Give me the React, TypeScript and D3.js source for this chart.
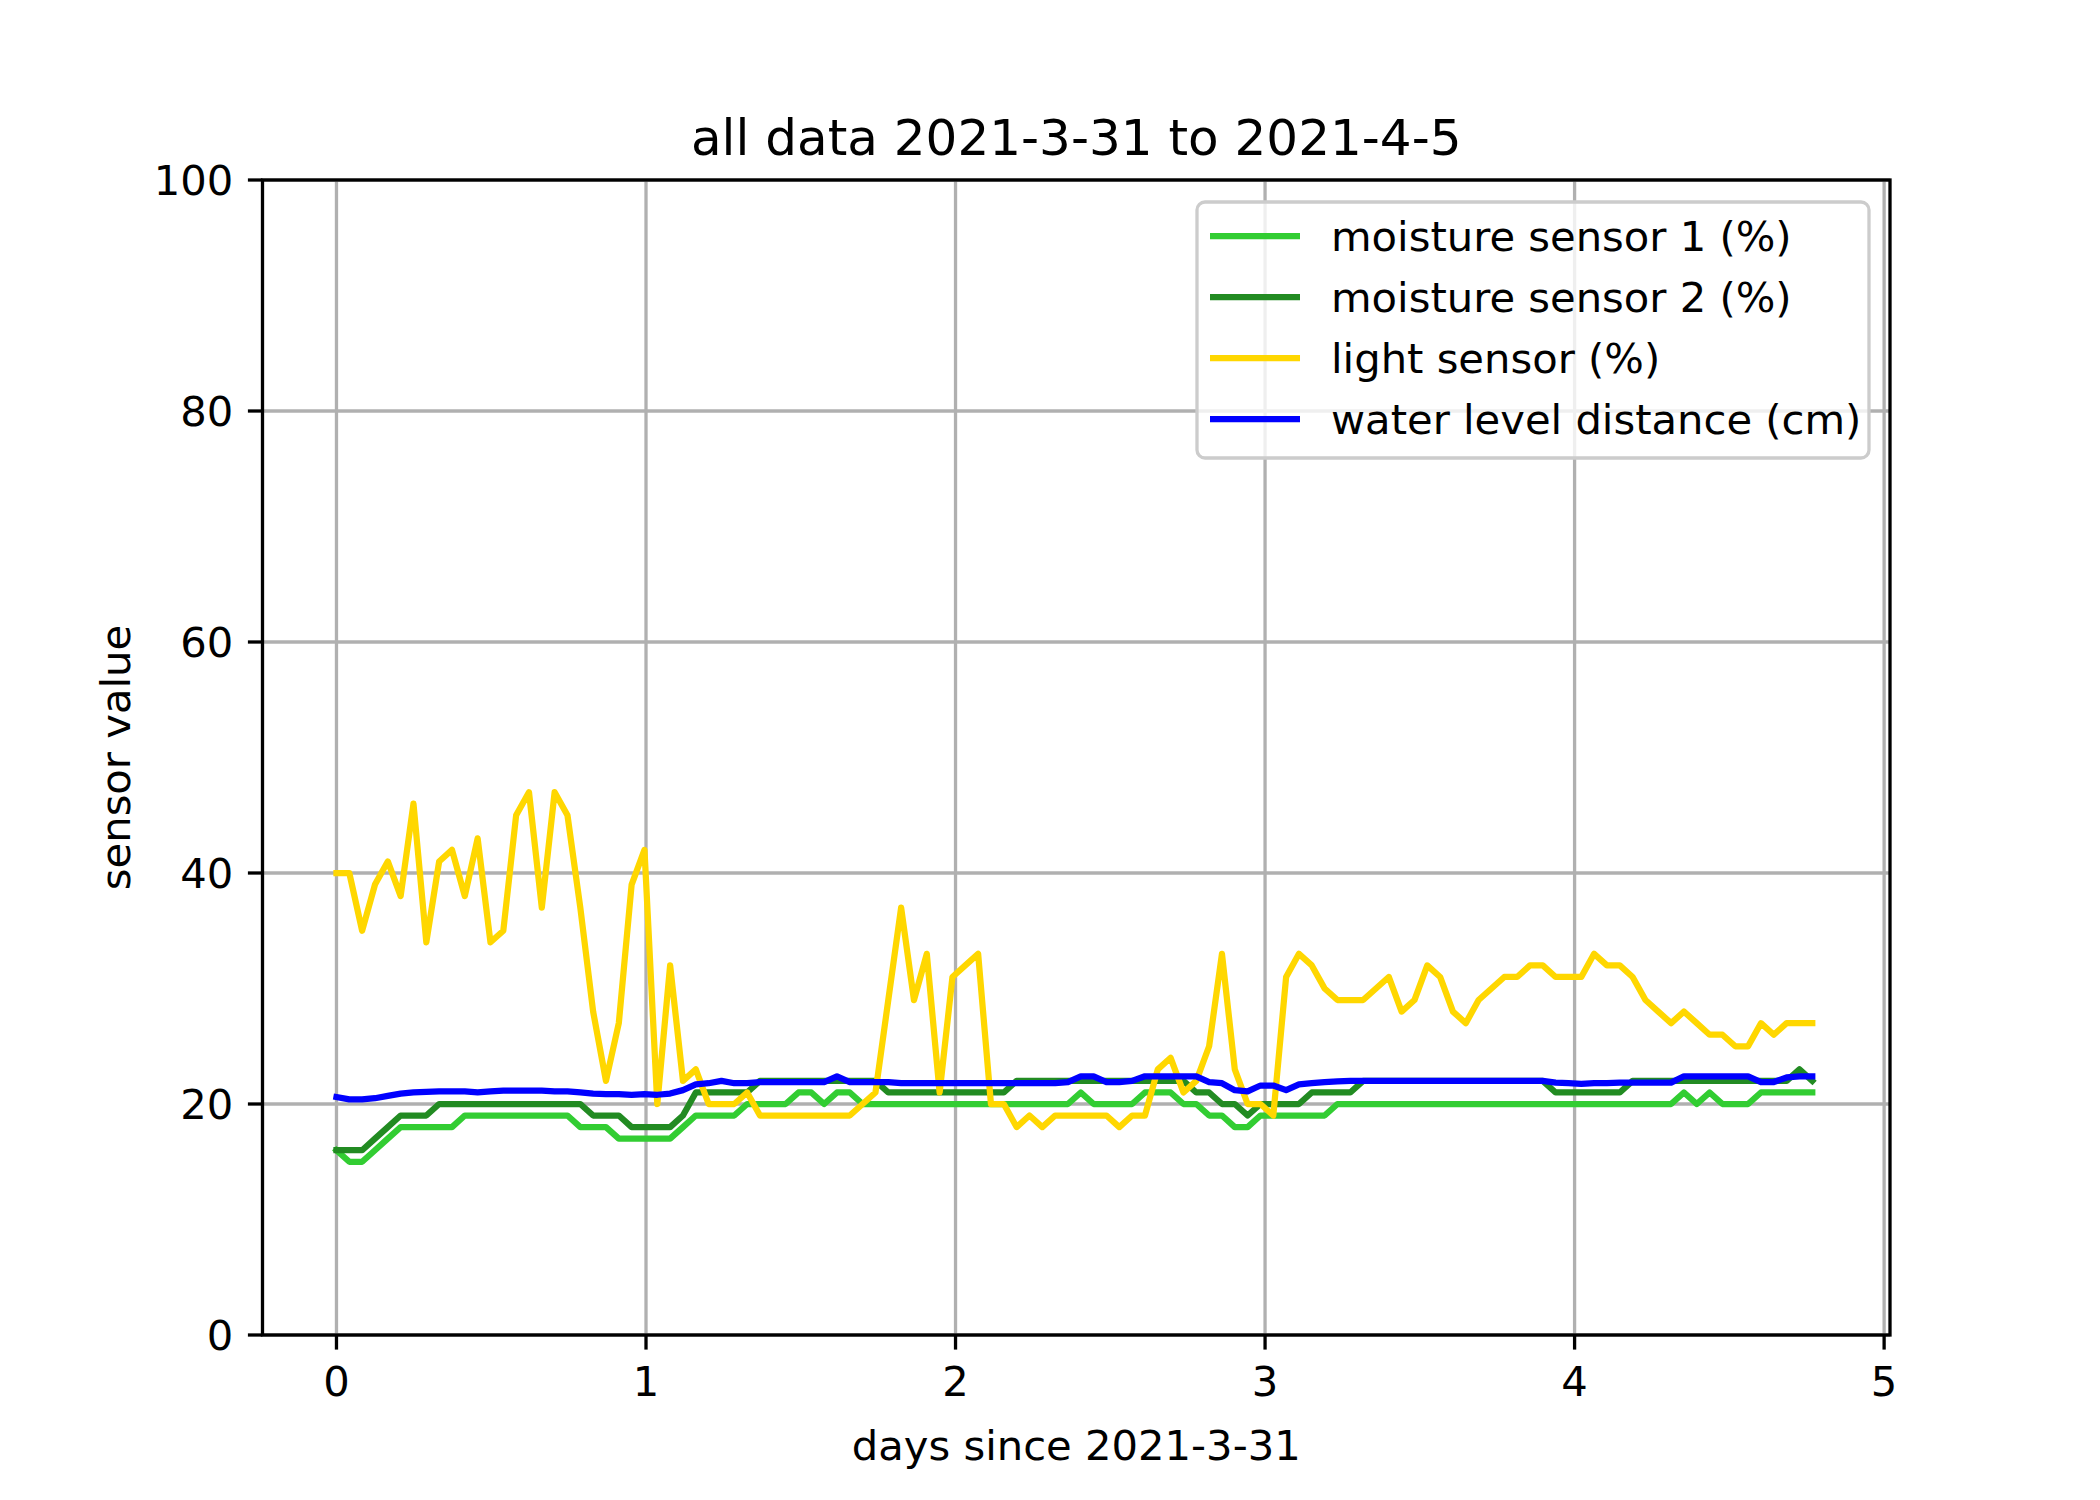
import React, { useEffect } from 'react';
import * as d3 from 'd3';

// hourly-ish samples, one every STEP days
const STEP = 0.04146;

const moisture1 = [
  16,15,15,16,17,18,18,18,18,18,19,19,19,19,19,19,19,19,19,18,18,18,17,17,17,17,
  17,18,19,19,19,19,20,20,20,20,21,21,20,21,21,20,20,20,20,20,20,20,20,20,
  20,20,20,20,20,20,20,20,21,20,20,20,20,21,21,21,20,20,19,19,18,18,19,19,
  19,19,19,19,20,20,20,20,20,20,20,20,20,20,20,20,20,20,20,20,20,20,20,20,
  20,20,20,20,20,20,20,21,20,21,20,20,20,21,21,21,21,21,
];

const moisture2 = [
  16,16,16,17,18,19,19,19,20,20,20,20,20,20,20,20,20,20,20,20,19,19,19,18,18,18,
  18,19,21,21,21,21,21,22,22,22,22,22,22,22,22,22,22,21,21,21,21,21,21,21,
  21,21,21,22,22,22,22,22,22,22,22,22,22,22,22,22,22,21,21,20,20,19,20,20,
  20,20,21,21,21,21,22,22,22,22,22,22,22,22,22,22,22,22,22,22,22,21,21,21,
  21,21,21,22,22,22,22,22,22,22,22,22,22,22,22,22,23,22,
];

const light = [
  40,40,35,39,41,38,46,34,41,42,38,43,34,35,45,47,37,47,45,37,28,22,27,39,42,
  20,32,22,23,20,20,20,21,19,19,19,19,19,19,19,19,20,21,29,37,29,33,21,31,32,
  33,20,20,18,19,18,19,19,19,19,19,18,19,19,23,24,21,22,25,33,23,20,20,19,
  31,33,32,30,29,29,29,30,31,28,29,32,31,28,27,29,30,31,31,32,32,31,31,31,
  33,32,32,31,29,28,27,28,27,26,26,25,25,27,26,27,27,27,
];

const water = [
  20.6,20.4,20.4,20.5,20.7,20.9,21.0,21.05,21.1,21.1,21.1,21.0,21.1,21.15,21.15,21.15,21.15,21.1,21.1,21.0,20.9,20.85,20.85,20.8,20.85,20.8,
  20.9,21.2,21.7,21.8,22.0,21.8,21.8,21.9,21.9,21.9,21.9,21.9,21.9,22.4,21.9,21.9,21.9,21.9,21.8,21.8,21.8,21.8,21.8,21.8,
  21.8,21.8,21.8,21.8,21.8,21.8,21.8,21.9,22.4,22.4,21.9,21.9,22.0,22.4,22.4,22.4,22.4,22.4,21.9,21.8,21.2,21.1,21.6,21.6,
  21.2,21.7,21.8,21.9,21.95,22,22,22,22,22,22,22,22,22,22,22,22,22,22,22,22,21.85,21.8,21.75,
  21.8,21.8,21.85,21.85,21.85,21.85,21.85,22.4,22.4,22.4,22.4,22.4,22.4,21.9,21.9,22.3,22.4,22.4,
];

const seriesNames = ['moisture sensor 1 (%)', 'moisture sensor 2 (%)', 'light sensor (%)', 'water level distance (cm)'];
const seriesColors = ['#32CD32', '#228B22', '#FFD700', '#0000FF'];
const xTicks = [0, 1, 2, 3, 4, 5];
const yTicks = [0, 20, 40, 60, 80, 100];

const W = 2100, H = 1500;
const L = 262.5, R = 1890, T = 180, B = 1335;
const FONT = 'DejaVu Sans, sans-serif';

export default function App() {
  useEffect(() => { document.body.style.margin = '0'; }, []);
  const x = d3.scaleLinear().domain([-0.239, 5.019]).range([L, R]);
  const y = d3.scaleLinear().domain([0, 100]).range([B, T]);
  const all = [moisture1, moisture2, light, water];
  const line = d3.line<number>().x((_, i) => x(i * STEP)).y(d => y(d));
  const tick = 14.6;
  return (
    <svg width={W} height={H} style={{ display: 'block', background: '#fff' }} fontFamily={FONT}>
      {xTicks.map(t => (
        <line key={'gx' + t} x1={x(t)} x2={x(t)} y1={T} y2={B} stroke="#b0b0b0" strokeWidth={3.3} />
      ))}
      {yTicks.map(t => (
        <line key={'gy' + t} x1={L} x2={R} y1={y(t)} y2={y(t)} stroke="#b0b0b0" strokeWidth={3.3} />
      ))}
      {all.map((s, i) => (
        <path key={i} d={line(s) || ''} fill="none" stroke={seriesColors[i]} strokeWidth={6.25} strokeLinejoin="round" strokeLinecap="square" />
      ))}
      <rect x={L} y={T} width={R - L} height={B - T} fill="none" stroke="#000" strokeWidth={3.3} />
      {xTicks.map(t => (
        <g key={'tx' + t}>
          <line x1={x(t)} x2={x(t)} y1={B} y2={B + tick} stroke="#000" strokeWidth={3.3} />
          <text x={x(t)} y={B + tick + 14.6 + 32} fontSize={41.7} textAnchor="middle">{t}</text>
        </g>
      ))}
      {yTicks.map(t => (
        <g key={'ty' + t}>
          <line x1={L - tick} x2={L} y1={y(t)} y2={y(t)} stroke="#000" strokeWidth={3.3} />
          <text x={L - tick - 14.6} y={y(t) + 15} fontSize={41.7} textAnchor="end">{t}</text>
        </g>
      ))}
      <text x={(L + R) / 2} y={1460} fontSize={41.7} textAnchor="middle">days since 2021-3-31</text>
      <text transform={`translate(130,${(T + B) / 2}) rotate(-90)`} fontSize={41.7} textAnchor="middle">sensor value</text>
      <text x={(L + R) / 2} y={155} fontSize={50} textAnchor="middle">all data 2021-3-31 to 2021-4-5</text>
      <g>
        <rect x={1197} y={202} width={672} height={256} rx={8} fill="#fff" fillOpacity={0.8} stroke="#cccccc" strokeWidth={3.3} />
        {seriesNames.map((n, i) => (
          <g key={n} transform={`translate(0,${236 + i * 61})`}>
            <line x1={1210} x2={1300} y1={0} y2={0} stroke={seriesColors[i]} strokeWidth={6.25} />
            <text x={1331} y={15} fontSize={41.7}>{n}</text>
          </g>
        ))}
      </g>
    </svg>
  );
}
